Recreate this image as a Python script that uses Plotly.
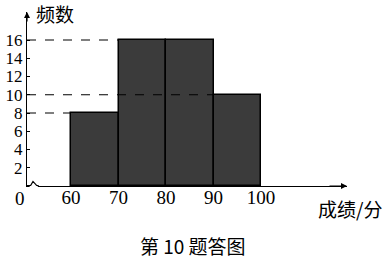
import plotly.graph_objects as go

# Data
bin_edges = [60, 70, 80, 90, 100]
freqs = [8, 16, 16, 10]
y_ticks = [2, 4, 6, 8, 10, 12, 14, 16]
x_ticks = [60, 70, 80, 90, 100]
y_label = "频数"
x_label = "成绩/分"
caption = "第 10 题答图"

X0, X1 = 50.74, 118.1
Y0, Y1 = 0, 19.07

centers = [(a + b) / 2 for a, b in zip(bin_edges[:-1], bin_edges[1:])]
widths = [b - a for a, b in zip(bin_edges[:-1], bin_edges[1:])]

fig = go.Figure()
fig.add_trace(go.Bar(
    x=centers, y=freqs, width=widths,
    marker=dict(color="#3b3b3b", line=dict(color="#000000", width=1.5)),
    hoverinfo="skip", showlegend=False,
))

shapes = []
# dashed reference lines to left edge of first bar with that frequency
for v in sorted(set(freqs)):
    idx = freqs.index(v)
    shapes.append(dict(type="line", xref="x", yref="y", x0=X0, x1=bin_edges[idx], y0=v, y1=v,
                       line=dict(color="black", width=1.2, dash="dash"), layer="above"))

# axis break zigzag (decoration)
shapes.append(dict(type="line", xref="x", yref="paper", x0=51.3, x1=53.0, y0=0, y1=0,
                   line=dict(color="white", width=3), layer="above"))
shapes.append(dict(type="path", xref="x", yref="y",
                   path="M 50.74 0.05 L 51.5 0.05 L 52.0 0.5 L 52.8 0.05 L 53.2 0.05",
                   line=dict(color="black", width=1.2), layer="above"))

fig.update_layout(shapes=shapes)

cjk = "Noto Sans CJK SC"
def txt(x, y, s, fam, size):
    return dict(x=x, y=y, xref="paper", yref="paper", text=s, showarrow=False,
                xanchor="center", yanchor="middle",
                font=dict(family=fam, size=size, color="black"))

ann = [
    dict(x=X0, y=Y1, ax=X0, ay=Y1 - 1.2, xref="x", yref="y", axref="x", ayref="y",
         showarrow=True, arrowhead=2, arrowsize=1, arrowwidth=1.2, arrowcolor="black", text=""),
    dict(x=X1, y=0, ax=X1 - 4, ay=0, xref="x", yref="y", axref="x", ayref="y",
         showarrow=True, arrowhead=2, arrowsize=1, arrowwidth=1.2, arrowcolor="black", text=""),
    txt(0.0875, 0.99, y_label, cjk, 19),
    txt(1.01, -0.13, x_label, cjk, 19),
    txt(0.52, -0.34, caption, cjk, 19),
    txt(-0.022, -0.07, "0", "Liberation Serif", 19),
]
fig.update_layout(annotations=ann)

fig.update_layout(
    width=390, height=261,
    margin=dict(l=27, r=43, t=12, b=75, pad=0, autoexpand=False),
    paper_bgcolor="white", plot_bgcolor="white",
    bargap=0,
    xaxis=dict(range=[X0, X1], tickvals=x_ticks, ticktext=[str(t) for t in x_ticks],
               showline=True, linecolor="black", linewidth=1.2, ticks="", showgrid=False,
               zeroline=False, automargin=False, ticklabelstandoff=-6,
               tickfont=dict(family="Liberation Serif", size=19, color="black")),
    yaxis=dict(range=[Y0, Y1], tickvals=y_ticks, ticktext=[str(t) for t in y_ticks],
               showline=True, linecolor="black", linewidth=1.2, ticks="inside", ticklen=3,
               tickcolor="black", showgrid=False, zeroline=False, automargin=False,
               tickfont=dict(family="Liberation Serif", size=17, color="black")),
)

fig.write_html("out.html")
